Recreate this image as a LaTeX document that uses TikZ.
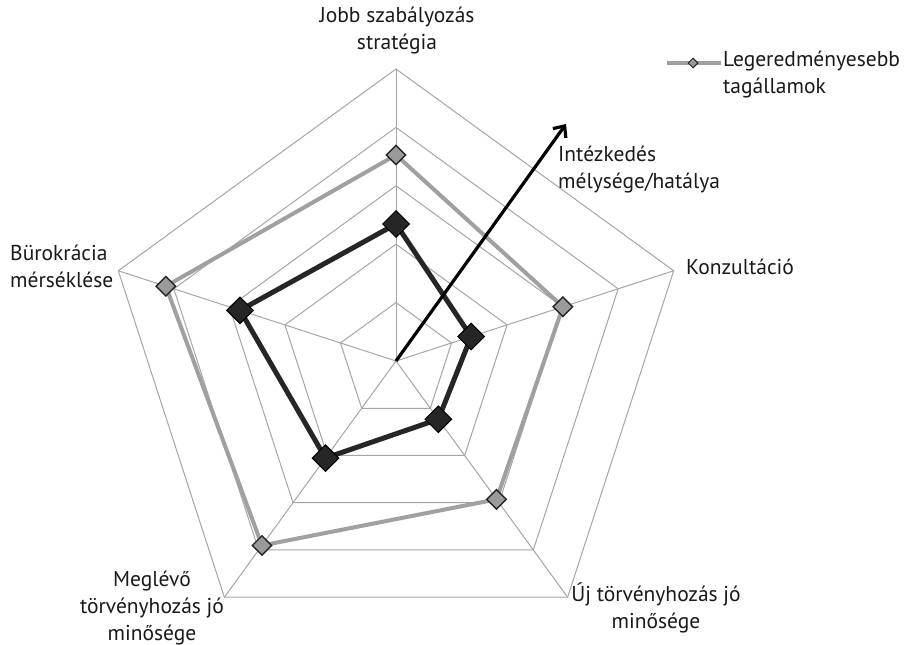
\documentclass[tikz,border=0pt]{standalone}
\usepackage{fontspec}
\setmainfont{PT Sans}
\usetikzlibrary{shapes.geometric,arrows.meta}
\definecolor{gridgray}{HTML}{A6A6A6}
\definecolor{seriesgray}{HTML}{A0A0A0}
\definecolor{markgray}{HTML}{9A9A9A}
\definecolor{darkser}{HTML}{262626}
\definecolor{txt}{HTML}{1A1A1A}
\tikzset{
  gridline/.style={draw=gridgray, line width=1pt},
  grayline/.style={draw=seriesgray, line width=4pt, line join=round},
  darkline/.style={draw=darkser, line width=5pt, line join=round},
  graymark/.style={diamond, aspect=1, draw=darkser, fill=markgray, line width=1.4pt, minimum size=20pt, inner sep=0pt},
  darkmark/.style={diamond, aspect=1, draw=black, fill=darkser, line width=1pt, minimum size=27pt, inner sep=0pt},
  legmark/.style={diamond, aspect=1, draw=darkser, fill=markgray, line width=1pt, minimum size=10pt, inner sep=0pt},
  lbl/.style={text=txt, font=\fontsize{21.5}{27}\selectfont, inner sep=0pt},
}
\begin{document}
\begin{tikzpicture}[x=1pt,y=1pt]
\useasboundingbox (0,0) rectangle (905,-645);
\fill[white] (0,0) rectangle (905,-645);
\begin{scope}[shift={(396,-361)}]
  % rings
  \foreach \r in {58.4,116.8,175.2,233.6,292}{
    \draw[gridline] (90:\r) -- (18:\r) -- (-54:\r) -- (-126:\r) -- (162:\r) -- cycle;
  }
  \coordinate (c) at (0,0);
  \coordinate (v1) at (90:292);
  \coordinate (v2) at (18:292);
  \coordinate (v3) at (-54:292);
  \coordinate (v4) at (-126:292);
  \coordinate (v5) at (162:292);
  \foreach \v in {v1,v2,v3,v4,v5}{ \draw[gridline] (c) -- (\v); }
  % gray series
  \coordinate (g1) at (90:206);
  \coordinate (g2) at (18:175.5);
  \coordinate (g3) at (-54:171);
  \coordinate (g4) at (-126:228);
  \coordinate (g5) at (162:242);
  \draw[grayline] (g1) -- (g2) -- (g3) -- (g4) -- (g5) -- cycle;
  % dark series
  \coordinate (d1) at (90:137);
  \coordinate (d2) at (18:79);
  \coordinate (d3) at (-54:72);
  \coordinate (d4) at (-126:120);
  \coordinate (d5) at (162:164);
  \draw[darkline] (d1) -- (d2) -- (d3) -- (d4) -- (d5) -- cycle;
  \foreach \p in {g1,g2,g3,g4,g5}{ \node[graymark] at (\p) {}; }
  \foreach \p in {d1,d2,d3,d4,d5}{ \node[darkmark] at (\p) {}; }
\end{scope}
% arrow
\coordinate (atip) at (566,-124);
\draw[line width=3.2pt, -{Straight Barb[length=9pt,width=16pt,line width=3.2pt]}] (c) -- (atip);
% axis labels
\node[lbl, align=center] (l1) at (397,-31) {Jobb szabályozás\\stratégia};
\node[lbl, anchor=west] (l2) at (686,-267) {Konzultáció};
\node[lbl, align=center] (l3) at (656,-608) {Új törvényhozás jó\\minősége};
\node[lbl, align=center] (l4) at (152,-608) {Meglévő\\törvényhozás jó\\minősége};
\node[lbl, align=left, anchor=west] (l5) at (10,-266) {Bürokrácia\\mérséklése};
\node[lbl, align=left, anchor=west] (l6) at (558,-170) {Intézkedés\\mélysége/hatálya};
% legend
\coordinate (lega) at (667,-63);
\coordinate (legb) at (721,-63);
\draw[grayline] (lega) -- (legb);
\node[legmark] (lm) at (693,-63) {};
\node[lbl, align=left, anchor=west] (lt) at (723,-75) {Legeredményesebb\\tagállamok};
\end{tikzpicture}
\end{document}
